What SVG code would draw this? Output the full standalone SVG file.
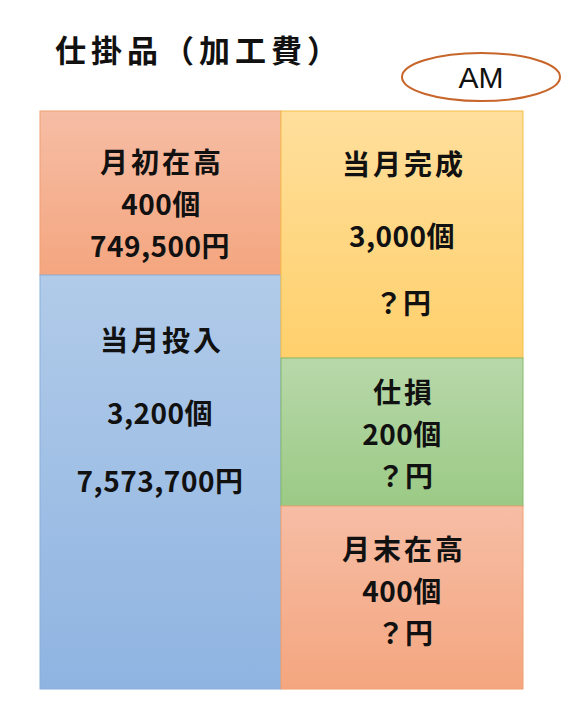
<svg xmlns="http://www.w3.org/2000/svg" width="577" height="708" viewBox="0 0 577 708">
<style>
.t{font-family:"Noto Sans CJK JP","Noto Sans CJK SC",sans-serif;font-weight:700;font-size:28px;text-anchor:middle;fill:#111}
.k{letter-spacing:3px}
.n{letter-spacing:0.5px}
.box{stroke-width:1}
</style>
<defs>
<linearGradient id="gOr" x1="0" y1="0" x2="0" y2="1"><stop offset="0" stop-color="#F6BDA5"/><stop offset="1" stop-color="#F4A67F"/></linearGradient>
<linearGradient id="gBl" x1="0" y1="0" x2="0" y2="1"><stop offset="0" stop-color="#B1CBE9"/><stop offset="1" stop-color="#8FB4E1"/></linearGradient>
<linearGradient id="gYe" x1="0" y1="0" x2="0" y2="1"><stop offset="0" stop-color="#FFDF9C"/><stop offset="1" stop-color="#FFD06C"/></linearGradient>
<linearGradient id="gGr" x1="0" y1="0" x2="0" y2="1"><stop offset="0" stop-color="#B8D8AA"/><stop offset="1" stop-color="#9BCA85"/></linearGradient>
</defs>
<rect width="577" height="708" fill="#FFFFFF"/>
<g id="title">
<text x="55" y="62" style="font-family:'Noto Sans CJK JP',sans-serif;font-weight:700;font-size:31px;letter-spacing:5px;fill:#111">仕掛品（加工費）</text>
</g>
<g id="am">
<ellipse cx="481" cy="77" rx="79" ry="24" fill="#FFFFFF" stroke="#C8652A" stroke-width="2"/>
<text x="481" y="88" style="font-family:'Liberation Sans',Arial,sans-serif;font-size:30px;text-anchor:middle;fill:#111">AM</text>
</g>
<g id="connectors"></g>
<g id="beginning">
<rect class="box" x="40" y="111" width="241" height="164" fill="url(#gOr)" stroke="#F0A070"/>
<text class="t k" x="162" y="173">月初在高</text>
<text class="t n" x="161" y="215">400個</text>
<text class="t n" x="160" y="257">749,500円</text>
</g>
<g id="input">
<rect class="box" x="40" y="275" width="241" height="414" fill="url(#gBl)" stroke="#8AAEDB"/>
<text class="t k" x="162" y="351">当月投入</text>
<text class="t n" x="160" y="424">3,200個</text>
<text class="t n" x="160" y="492">7,573,700円</text>
</g>
<g id="completed">
<rect class="box" x="281" y="111" width="242" height="247" fill="url(#gYe)" stroke="#F5C04A"/>
<text class="t k" x="404" y="175">当月完成</text>
<text class="t n" x="402" y="247">3,000個</text>
<text class="t n" x="403" y="314">？円</text>
</g>
<g id="spoilage">
<rect class="box" x="281" y="358" width="242" height="148" fill="url(#gGr)" stroke="#86BA6A"/>
<text class="t k" x="404" y="403">仕損</text>
<text class="t n" x="402" y="445">200個</text>
<text class="t n" x="405" y="487">？円</text>
</g>
<g id="ending">
<rect class="box" x="281" y="506" width="242" height="183" fill="url(#gOr)" stroke="#F0A070"/>
<text class="t k" x="404" y="560">月末在高</text>
<text class="t n" x="402" y="602">400個</text>
<text class="t n" x="405" y="644">？円</text>
</g>
</svg>
